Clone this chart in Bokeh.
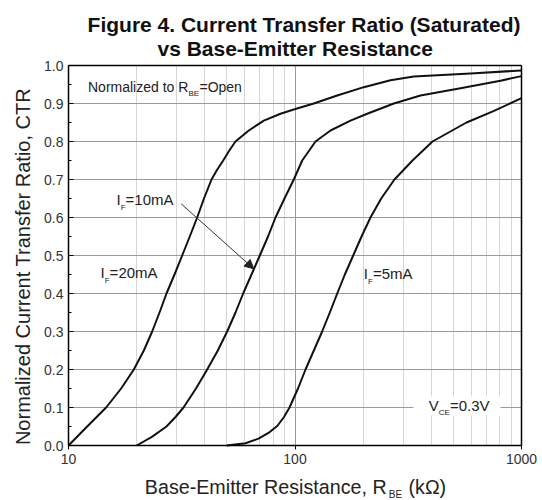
from math import pi
from bokeh.plotting import figure
from bokeh.models import (FixedTicker, Label, Arrow, NormalHead, BoxAnnotation,
                          Range1d, NumeralTickFormatter, LogAxis, LinearAxis)
from bokeh.embed import file_html
from bokeh.resources import INLINE

# ---- data ----
r_20ma = [10, 12.09, 14.66, 17.08, 19.43, 21.51, 23.41, 25.23, 27.08, 29.38, 31.76,
          34.31, 36.99, 39.64, 42.80, 45.24, 48.20, 51.12, 54.60, 62.52, 72.84, 86.30,
          101.2, 121.1, 153.6, 201.3, 264.0, 334.6, 595.5, 1000]
ctr_20ma = [0.0, 0.05, 0.1, 0.15, 0.2, 0.25, 0.3, 0.35, 0.4, 0.45, 0.5,
            0.55, 0.6, 0.65, 0.7, 0.725, 0.75, 0.775, 0.8, 0.829, 0.855, 0.873,
            0.886, 0.9, 0.921, 0.943, 0.961, 0.971, 0.979, 0.987]

r_10ma = [20, 23.25, 27.08, 29.68, 32.20, 36.55, 40.95, 45.63, 50.18, 54.62, 59.04,
          64.27, 69.94, 76.02, 82.02, 89.87, 98.79, 107.6, 123.2, 143.5, 175.8,
          208.3, 273.1, 358.2, 538.0, 807.7, 1000]
ctr_10ma = [0.0, 0.022, 0.05, 0.075, 0.1, 0.15, 0.2, 0.25, 0.3, 0.35, 0.4,
            0.45, 0.5, 0.55, 0.6, 0.65, 0.7, 0.75, 0.8, 0.829, 0.855,
            0.873, 0.9, 0.921, 0.94, 0.96, 0.972]

r_5ma = [50, 60.46, 69.02, 76.38, 83.70, 89.42, 94.56, 103.1, 111.3, 121.1, 131.8,
         142.5, 153.6, 166.0, 180.7, 196.7, 215.4, 240.2, 274.9, 330.2, 404.6,
         571.8, 752.3, 1000]
ctr_5ma = [0.0, 0.006, 0.018, 0.033, 0.052, 0.075, 0.1, 0.15, 0.2, 0.25, 0.3,
           0.35, 0.4, 0.45, 0.5, 0.55, 0.6, 0.65, 0.7, 0.75, 0.8,
           0.85, 0.88, 0.914]

x_ticks = [10, 100, 1000]
x_tick_labels = ["10", "100", "1000"]
x_minor = [20, 30, 40, 50, 60, 70, 80, 90, 200, 300, 400, 500, 600, 700, 800, 900]
y_ticks = [0.0, 0.1, 0.2, 0.3, 0.4, 0.5, 0.6, 0.7, 0.8, 0.9, 1.0]
y_minor = [0.05, 0.15, 0.25, 0.35, 0.45, 0.55, 0.65, 0.75, 0.85, 0.95]

FONT = "Liberation Sans"

# plotting box: x 10..1000 spans px 68..521, y 0..1 spans px 445..65 of a 542x500 canvas
X0, X1 = 10, 1000
Y0, Y1 = 0.0, 1.0
x_range = Range1d(10 ** (1 - 68 / 226.5), 10 ** (1 + 474 / 226.5))
y_range = Range1d(-55 / 380, 445 / 380)

p = figure(width=542, height=500, x_axis_type="log",
           x_range=x_range, y_range=y_range,
           output_backend="svg", toolbar_location=None,
           min_border=0, min_border_left=0, min_border_right=0,
           min_border_top=0, min_border_bottom=0)
p.title.visible = False
p.background_fill_color = "white"
p.border_fill_color = "white"
p.outline_line_color = None

bx = p.below[0]
ly = p.left[0]

bx.fixed_location = Y0
bx.bounds = (X0, X1)
bx.ticker = FixedTicker(ticks=x_ticks, minor_ticks=x_minor)
bx.major_label_overrides = {t: l for t, l in zip(x_ticks, x_tick_labels)}
bx.major_tick_in = 0
bx.major_tick_out = 4
bx.minor_tick_in = 0
bx.minor_tick_out = 0
bx.major_label_standoff = 4

ly.fixed_location = X0
ly.bounds = (Y0, Y1)
ly.ticker = FixedTicker(ticks=y_ticks, minor_ticks=y_minor)
ly.formatter = NumeralTickFormatter(format="0.0")
ly.major_tick_in = 5
ly.major_tick_out = 0
ly.minor_tick_in = 3
ly.minor_tick_out = 0
ly.major_label_standoff = 5

top_ax = LogAxis(fixed_location=Y1, bounds=(X0, X1), ticker=FixedTicker(ticks=[]))
right_ax = LinearAxis(fixed_location=X1, bounds=(Y0, Y1), ticker=FixedTicker(ticks=[]))
p.add_layout(top_ax, "above")
p.add_layout(right_ax, "right")

for ax in (bx, ly, top_ax, right_ax):
    ax.axis_line_color = "black"
    ax.axis_line_width = 1.5
    ax.major_tick_line_color = "black"
    ax.minor_tick_line_color = "black"
    ax.major_label_text_font = FONT
    ax.major_label_text_font_size = "14px"
    ax.major_label_text_color = "#333333"

p.xgrid.bounds = (X0, X1)
p.xgrid.cross_bounds = (Y0, Y1)
p.ygrid.bounds = (Y0, Y1)
p.ygrid.cross_bounds = (X0, X1)
p.ygrid.grid_line_color = "#9a9a9a"
p.xgrid.grid_line_color = "#9a9a9a"
p.xgrid.minor_grid_line_color = "#d6d6d6"

for xs, ys in ((r_20ma, ctr_20ma), (r_10ma, ctr_10ma), (r_5ma, ctr_5ma)):
    p.line(xs, ys, line_color="#111111", line_width=2, line_join="round")

# white box behind V_CE label
p.add_layout(BoxAnnotation(left=333.6, right=807.7, bottom=0.0789, top=0.1289,
                           fill_color="white", fill_alpha=1.0, line_alpha=0.0))


def lab(x, y, text, size, align="left", style="normal", color="#222222", angle=0.0):
    p.add_layout(Label(x=x, y=y, text=text, text_font=FONT, text_font_size=size,
                       text_font_style=style, text_color=color,
                       text_align=align, text_baseline="middle", angle=angle))


# in-plot annotations
lab(12.19, 0.9426, "Normalized to R", "14px")
lab(33.88, 0.9268, "BE", "8px")
lab(37.87, 0.9426, "=Open", "14px")

lab(16.29, 0.6482, "I", "15px")
lab(17.00, 0.6271, "F", "8px")
lab(17.87, 0.6482, "=10mA", "15px")

lab(13.84, 0.4553, "I", "15px")
lab(14.45, 0.4342, "F", "8px")
lab(15.19, 0.4553, "=20mA", "15px")

lab(201.3, 0.4534, "I", "15px")
lab(210.1, 0.4324, "F", "8px")
lab(220.8, 0.4534, "=5mA", "15px")

lab(389.8, 0.1061, "V", "15px")
lab(431.5, 0.0876, "CE", "8px")
lab(483.0, 0.1061, "=0.3V", "15px")

p.add_layout(Arrow(end=NormalHead(size=9, fill_color="#222222", line_color="#222222",
                                  line_width=1),
                   x_start=31.45, y_start=0.636, x_end=65.78, y_end=0.465,
                   line_color="#333333", line_width=1))

# title
lab(109.6, 1.1068, "Figure 4. Current Transfer Ratio (Saturated)", "21px",
    align="center", style="bold", color="#111111")
lab(100.2, 1.0445, "vs Base-Emitter Resistance", "21px",
    align="center", style="bold", color="#111111")

# axis titles
lab(6.265, 0.471, "Normalized Current Transfer Ratio, CTR", "20px",
    align="center", angle=pi / 2)
lab(21.72, -0.1092, "Base-Emitter Resistance, R", "19.7px")
lab(259.5, -0.1289, "BE", "10px")
lab(317.0, -0.1092, "(k\u03a9)", "19.7px")

open("out.html", "w").write(file_html(p, INLINE))
